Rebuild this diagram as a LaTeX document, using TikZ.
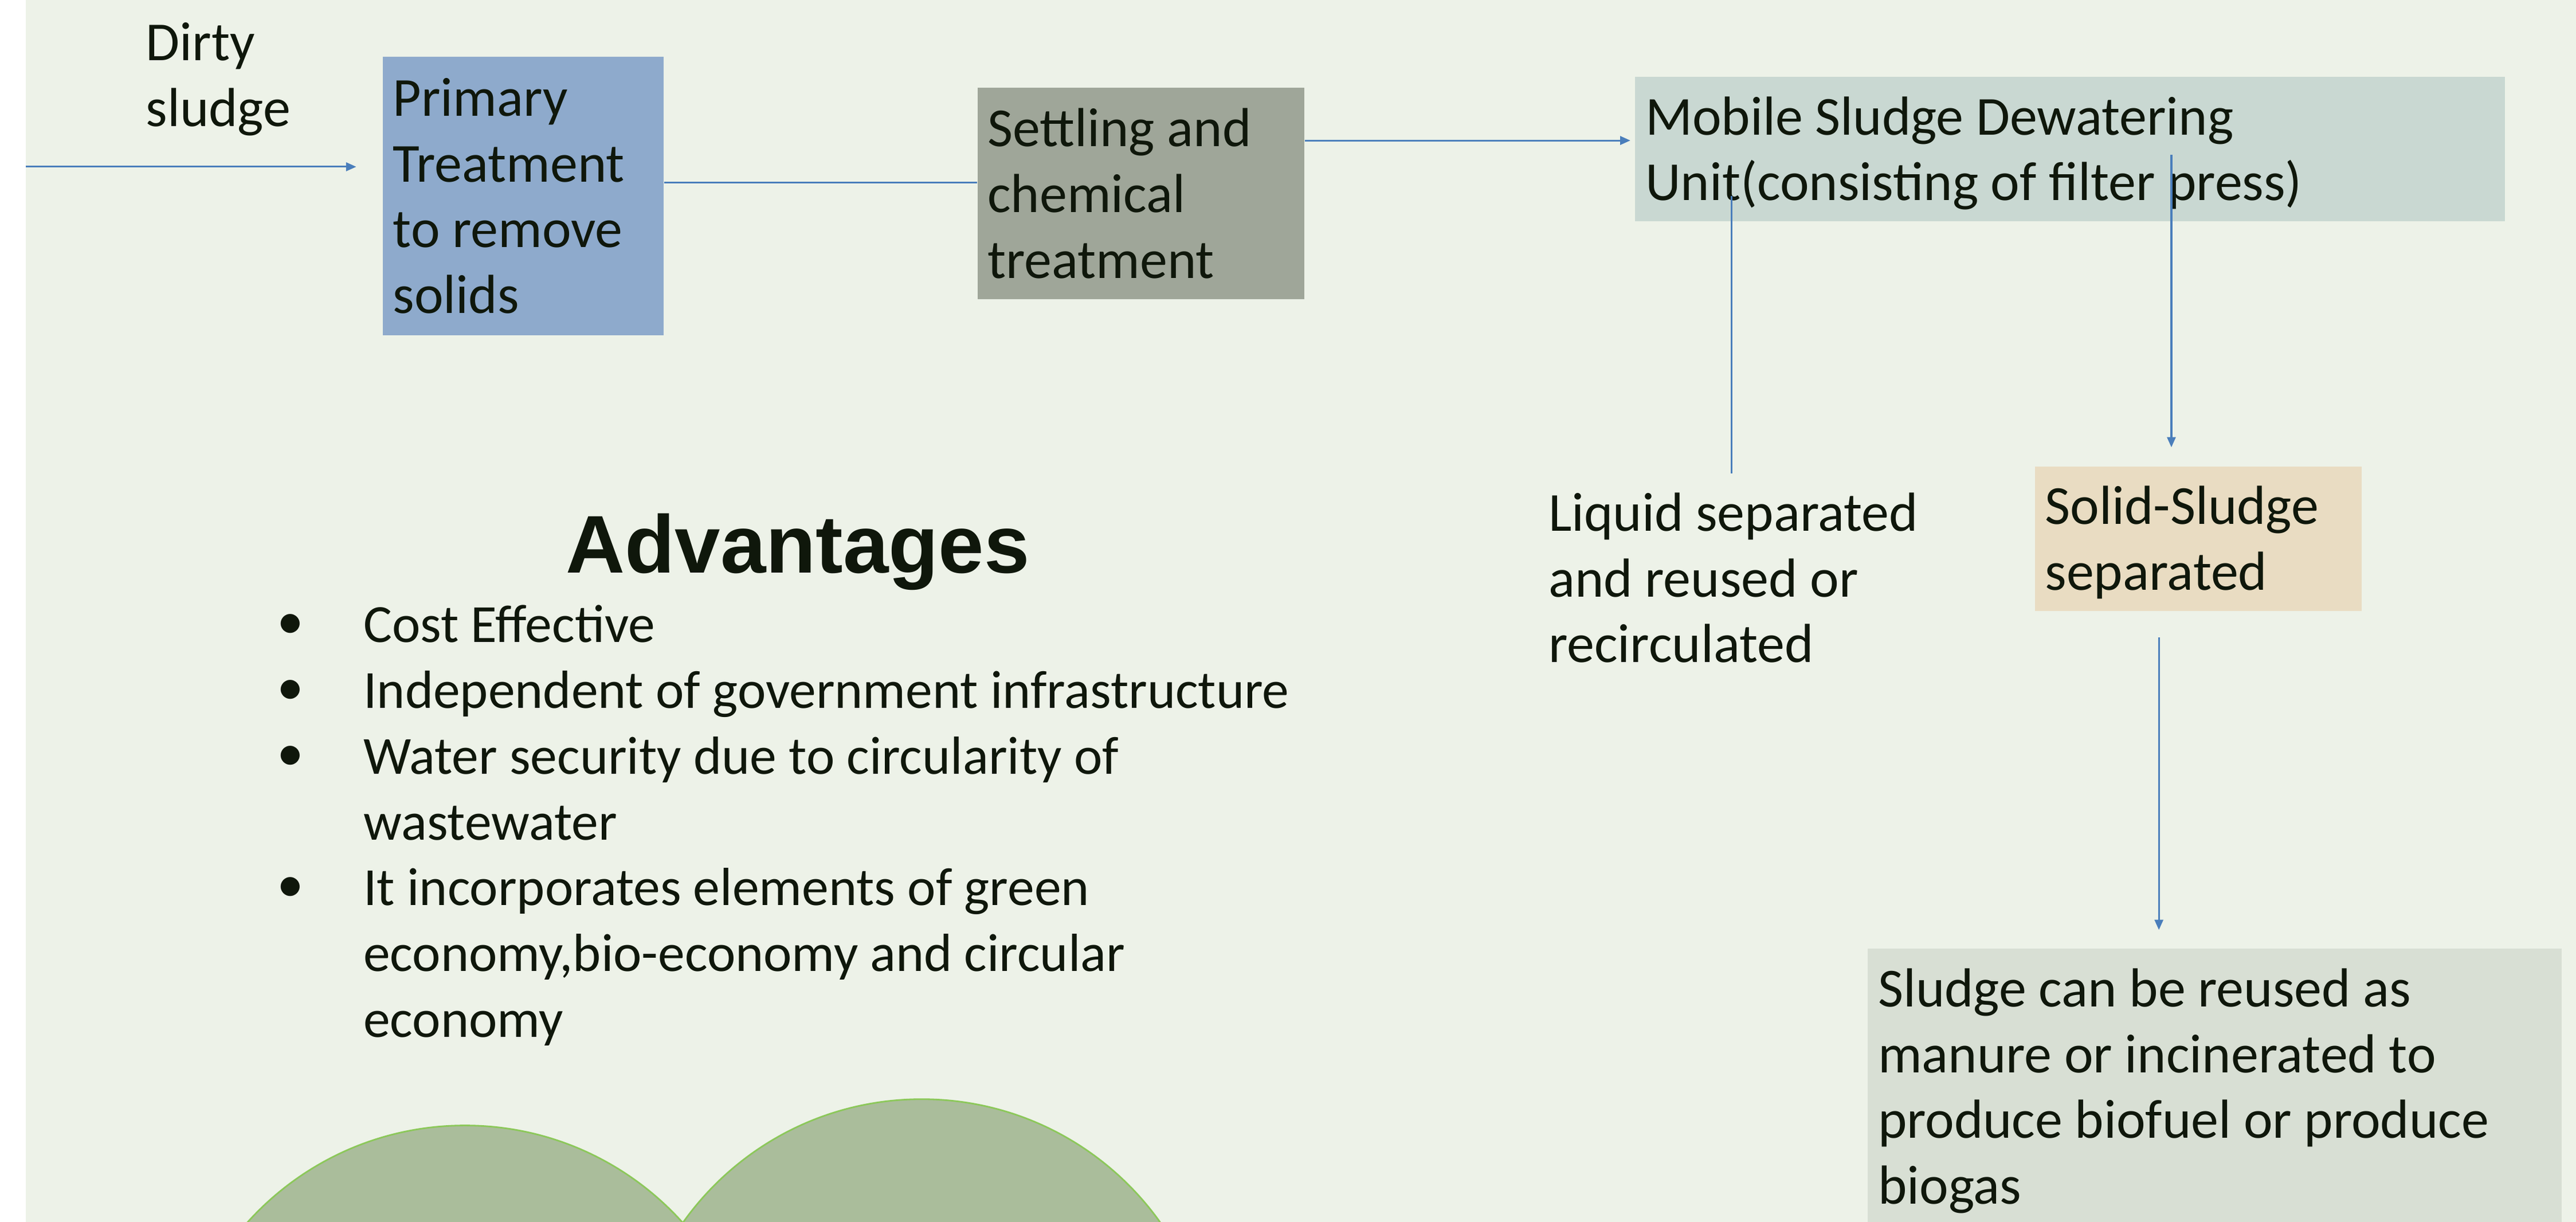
\documentclass[tikz,border=0pt]{standalone}
\usepackage{fontspec}
\setmainfont{Carlito}
\newfontfamily\headfont{Liberation Sans}
\usepackage[]{color}
\usetikzlibrary{positioning,arrows.meta}

\definecolor{slidebg}{HTML}{EDF2E8}
\definecolor{ink}{HTML}{0F170B}
\definecolor{flowblue}{HTML}{4A7EBB}
\definecolor{primfill}{HTML}{8EAACC}
\definecolor{settlefill}{HTML}{9FA699}
\definecolor{mobilefill}{HTML}{C9D8D2}
\definecolor{solidfill}{HTML}{E9DCC2}
\definecolor{sludgefill}{HTML}{D8DFD4}
\definecolor{leafgreen}{HTML}{AABD9B}
\definecolor{leafline}{HTML}{8CC85A}

\newcommand{\bodyfont}{\fontsize{20.5}{24.5}\selectfont}
\newcommand{\listfont}{\fontsize{20}{24.5}\selectfont}
\newcommand{\dotmark}{\raisebox{1.35pt}{\textbullet}}

\tikzset{
  >={Triangle[length=3.8pt,width=3.2pt]},
  flow/.style={draw=flowblue, line width=0.65pt},
  stagebox/.style={anchor=north west, inner xsep=3.8pt, inner ysep=1pt, align=flush left, font=\bodyfont, text=ink},
  plain/.style={inner sep=0pt, align=left, font=\bodyfont, text=ink},
  leaf/.style={fill=leafgreen, draw=leafline, line width=0.6pt}
}

\begin{document}
\begin{tikzpicture}[x=0.6122pt, y=-0.6122pt]
\useasboundingbox (0,0) rectangle (1568,743.7);
\clip (0,0) rectangle (1568,743.7);
\fill[white] (0,0) rectangle (1568,743.7);
\fill[slidebg] (15.7,0) rectangle (1568,743.7);
%----boxes----%
\node[stagebox, fill=primfill, text width=97.1pt, minimum height=103.7pt] (primary) at (232.7,34.2) {Primary\\Treatment\\to remove\\solids};
\node[stagebox, fill=settlefill, text width=114.2pt, minimum height=78.9pt] (settle) at (594.6,53) {Settling and\\chemical\\treatment};
\node[stagebox, fill=mobilefill, text width=316.6pt, minimum height=53.9pt, text height=17.4pt] (mobile) at (995,46.4) {Mobile Sludge Dewatering\\Unit(consisting of filter press)};
\node[stagebox, fill=solidfill, text width=114.2pt, minimum height=53.9pt, text height=17pt] (solid) at (1238.3,283.5) {Solid-Sludge\\separated};
\node[stagebox, fill=sludgefill, text width=251pt, minimum height=106.2pt] (sludge) at (1136.6,576.9) {Sludge can be reused as\\manure or incinerated to\\produce biofuel or produce\\biogas};
%----texts----%
\node[plain, anchor=base west] (dirty) at (88.5,76.8) {Dirty\\sludge};
\node[plain, anchor=base west] (liquid) at (942.3,403.2) {Liquid separated\\and reused or\\recirculated};
\node[font=\headfont\fontsize{30.5}{36}\selectfont\bfseries, text=ink, inner sep=0pt, anchor=base] (advhead) at (485.6,348.8) {Advantages};
\node[plain, font=\listfont, anchor=base west] (advlist) at (168.5,391) {%
  \begin{tabular}[t]{@{}p{32.1pt}@{}l@{}}
  \dotmark & Cost Effective\\
  \dotmark & Independent of government infrastructure\\
  \dotmark & Water security due to circularity of\\
   & wastewater\\
  \dotmark & It incorporates elements of green\\
   & economy,bio-economy and circular\\
   & economy
  \end{tabular}};
%----circles----%
\draw[leaf] (283,863) circle (109pt);
\draw[leaf] (561,847) circle (109pt);
%----connectors----%
\coordinate (src) at (15.7,101.5);
\coordinate (ps) at (0,111.2);
\coordinate (sm) at (0,85.5);
\coordinate (lq) at (1054,119.3);
\coordinate (sd) at (1321.7,94.1);
\coordinate (ss) at (1314.1,0);
\draw[flow,->,shorten >=9.7pt] (src) -- (primary.west |- src);
\draw[flow] (primary.east |- ps) -- (settle.west |- ps);
\draw[flow,->,shorten >=1.6pt] (settle.east |- sm) -- (mobile.west |- sm);
\draw[flow,shorten >=7pt] (lq) -- (lq |- liquid.north);
\draw[flow,->,shorten >=6.9pt] (sd) -- (sd |- solid.north);
\draw[flow,->,shorten <=9.7pt,shorten >=6.7pt] (solid.south -| ss) -- (sludge.north -| ss);
\end{tikzpicture}
\end{document}
